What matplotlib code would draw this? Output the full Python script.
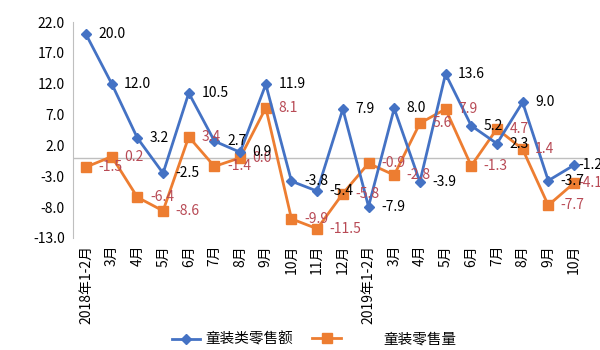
import matplotlib
matplotlib.use('Agg')
import matplotlib.pyplot as plt
from matplotlib.lines import Line2D

plt.rcParams['font.family'] = ['Noto Sans CJK SC', 'DejaVu Sans']
plt.rcParams['axes.unicode_minus'] = False

months = ['2018年1-2月', '3月', '4月', '5月', '6月', '7月', '8月', '9月', '10月', '11月', '12月',
          '2019年1-2月', '3月', '4月', '5月', '6月', '7月', '8月', '9月', '10月']
sales_amount = [20.0, 12.0, 3.2, -2.5, 10.5, 2.7, 0.9, 11.9, -3.8, -5.4, 7.9,
                -7.9, 8.0, -3.9, 13.6, 5.2, 2.3, 9.0, -3.7, -1.2]
sales_volume = [-1.5, 0.2, -6.4, -8.6, 3.4, -1.4, 0.0, 8.1, -9.9, -11.5, -5.8,
                -0.9, -2.8, 5.6, 7.9, -1.3, 4.7, 1.4, -7.7, -4.1]
yticks = [-13, -8, -3, 2, 7, 12, 17, 22]

blue = '#4472C4'
orange = '#ED7D31'
label_red = '#B84A55'

fig = plt.figure(figsize=(6, 3.5), dpi=100)
ax = fig.add_axes([0.122, 0.32, 0.856, 0.617])

x = list(range(len(months)))
ax.axhline(0, color='#BFBFBF', lw=1, zorder=1)
ax.plot(x, sales_amount, color=blue, lw=2, marker='D', ms=5, zorder=3)
ax.plot(x, sales_volume, color=orange, lw=2, marker='s', ms=7, zorder=2)

for i in x:
    off = 3 if i == len(x) - 1 else 9
    ax.annotate('%.1f' % sales_amount[i], (i, sales_amount[i]), xytext=(off, 0),
                textcoords='offset points', ha='left', va='center', fontsize=10,
                color='black', annotation_clip=False, zorder=5)
    ax.annotate('%.1f' % sales_volume[i], (i, sales_volume[i]), xytext=(off, 0),
                textcoords='offset points', ha='left', va='center', fontsize=10,
                color=label_red, annotation_clip=False, zorder=4)

ax.set_xlim(-0.5, len(months) - 0.5)
ax.set_ylim(-13, 22)
ax.set_yticks(yticks)
ax.set_yticklabels(['%.1f' % v for v in yticks], fontsize=10)
ax.set_xticks(x)
ax.set_xticklabels(months, rotation=90, fontsize=10)
ax.tick_params(axis='both', length=0)
ax.tick_params(axis='x', pad=5)
ax.tick_params(axis='y', pad=6)
for s in ['top', 'right', 'bottom']:
    ax.spines[s].set_visible(False)
ax.spines['left'].set_color('#BFBFBF')

h1 = Line2D([], [], color=blue, lw=2, marker='D', ms=5)
h2 = Line2D([], [], color=orange, lw=2, marker='s', ms=7)
fig.legend([h1], ['童装类零售额'], loc='center left', bbox_to_anchor=(0.265, 0.03),
           frameon=False, fontsize=10.5, handlelength=1.9, handletextpad=0.35)
fig.legend([h2], ['童装零售量'], loc='center left', bbox_to_anchor=(0.498, 0.03),
           frameon=False, fontsize=10.5, handlelength=2.0, handletextpad=2.9)

fig.savefig('out.png', dpi=100)
